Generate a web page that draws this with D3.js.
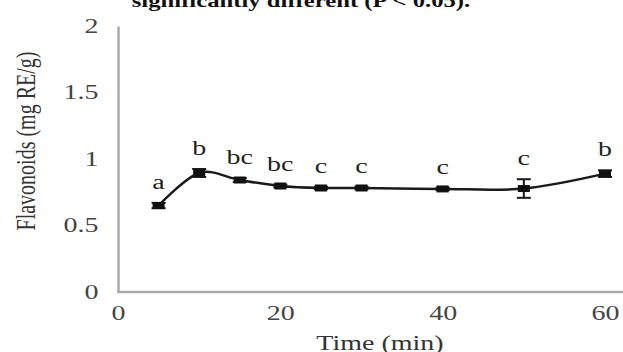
<!DOCTYPE html>
<html lang="en">
<head>
<meta charset="UTF-8">
<title>Flavonoids</title>
<script src="https://cdn.jsdelivr.net/npm/d3@7"></script>
<style>
    body{margin:0;background:#fff;}
    svg{display:block;}
    text{font-family:"Liberation Serif","DejaVu Serif",serif;}
</style>
</head>
<body>
<div id="main"><svg></svg></div>
<script>
    // data
    var times = [5, 10, 15, 20, 25, 30, 40, 50, 60];
    var means = [0.65, 0.895, 0.842, 0.797, 0.782, 0.782, 0.775, 0.778, 0.89];
    var sds = [0.02, 0.03, 0.015, 0.01, 0.01, 0.01, 0.01, 0.07, 0.025];
    var letters = ["a", "b", "bc", "bc", "c", "c", "c", "c", "b"];
    var yTicks = [0, 0.5, 1, 1.5, 2];
    var xTicks = [0, 20, 40, 60];

    var width = 623, height = 352;
    var stretch = 1.4;   // the picture is wider than tall text would be
    var svg = d3.select("#main").select("svg")
        .attr("width", width)
        .attr("height", height);

    var x = d3.scaleLinear().domain([0, 60]).range([118, 605]);
    var y = d3.scaleLinear().domain([0, 2]).range([292, 26]);

    // title, cut at the top
    var tg = svg.append("g").attr("transform", "translate(301,7)");
    tg.append("text")
        .attr("transform", "scale(1.3,1)")
        .attr("text-anchor", "middle")
        .attr("font-size", 19)
        .attr("font-weight", "bold")
        .attr("fill", "#111")
        .text("significantly different (P < 0.05).");

    // y axis
    var yAxis = svg.append("g")
        .attr("transform", "translate(" + x(0) + ",0)")
        .call(d3.axisLeft(y).tickValues(yTicks).tickFormat(d3.format("")).tickSize(0).tickPadding(14));
    yAxis.select(".domain").attr("stroke", "#aaa").attr("stroke-width", 2.5);
    yAxis.selectAll(".tick text")
        .attr("transform", "scale(" + stretch + ",1)")
        .attr("font-size", 20)
        .attr("font-family", "Liberation Serif")
        .attr("fill", "#444");

    // x axis
    var xAxis = svg.append("g")
        .attr("transform", "translate(0," + y(0) + ")")
        .call(d3.axisBottom(x).tickValues(xTicks).tickSize(0).tickPadding(14));
    xAxis.select(".domain").remove();
    xAxis.append("line")
        .attr("x1", x(0) - 1).attr("x2", width)
        .attr("stroke", "#aaa").attr("stroke-width", 2.5);
    xAxis.selectAll(".tick text")
        .attr("transform", "scale(" + stretch + ",1)")
        .attr("font-size", 20)
        .attr("font-family", "Liberation Serif")
        .attr("fill", "#444");

    // axis titles
    svg.append("g").attr("transform", "translate(380,350)")
        .append("text")
        .attr("transform", "scale(" + stretch + ",1)")
        .attr("text-anchor", "middle")
        .attr("font-size", 20)
        .attr("fill", "#333")
        .text("Time (min)");

    svg.append("g").attr("transform", "translate(35,141) rotate(-90)")
        .append("text")
        .attr("transform", "scale(1," + stretch + ")")
        .attr("text-anchor", "middle")
        .attr("font-size", 20)
        .attr("fill", "#333")
        .text("Flavonoids (mg RE/g)");

    var points = times.map(function (t, i) {
        return {t: t, m: means[i], sd: sds[i], lab: letters[i]};
    });

    // smoothed line
    var line = d3.line()
        .x(function (d) { return x(d.t); })
        .y(function (d) { return y(d.m); })
        .curve(d3.curveCardinal.tension(0));
    svg.append("path")
        .datum(points)
        .attr("d", line)
        .attr("fill", "none")
        .attr("stroke", "#1a1a1a")
        .attr("stroke-width", 2.5);

    // error bars
    var eb = svg.append("g").attr("stroke", "#1a1a1a").attr("stroke-width", 2);
    points.forEach(function (d) {
        var cx = x(d.t);
        eb.append("line")
            .attr("x1", cx).attr("x2", cx)
            .attr("y1", y(d.m + d.sd)).attr("y2", y(d.m - d.sd));
        eb.append("line")
            .attr("x1", cx - 7).attr("x2", cx + 7)
            .attr("y1", y(d.m + d.sd)).attr("y2", y(d.m + d.sd));
        eb.append("line")
            .attr("x1", cx - 7).attr("x2", cx + 7)
            .attr("y1", y(d.m - d.sd)).attr("y2", y(d.m - d.sd));
    });

    // markers
    svg.append("g").selectAll("rect")
        .data(points)
        .enter().append("rect")
        .attr("x", function (d) { return x(d.t) - 6; })
        .attr("y", function (d) { return y(d.m) - 3.5; })
        .attr("width", 12)
        .attr("height", 7)
        .attr("fill", "#111");

    // significance letters
    svg.append("g").selectAll("g")
        .data(points)
        .enter().append("g")
        .attr("transform", function (d) {
            return "translate(" + x(d.t) + "," + (y(d.m + d.sd) - 14) + ")";
        })
        .append("text")
        .attr("transform", "scale(" + stretch + ",1)")
        .attr("text-anchor", "middle")
        .attr("font-size", 20)
        .attr("fill", "#222")
        .text(function (d) { return d.lab; });
</script>
</body>
</html>
